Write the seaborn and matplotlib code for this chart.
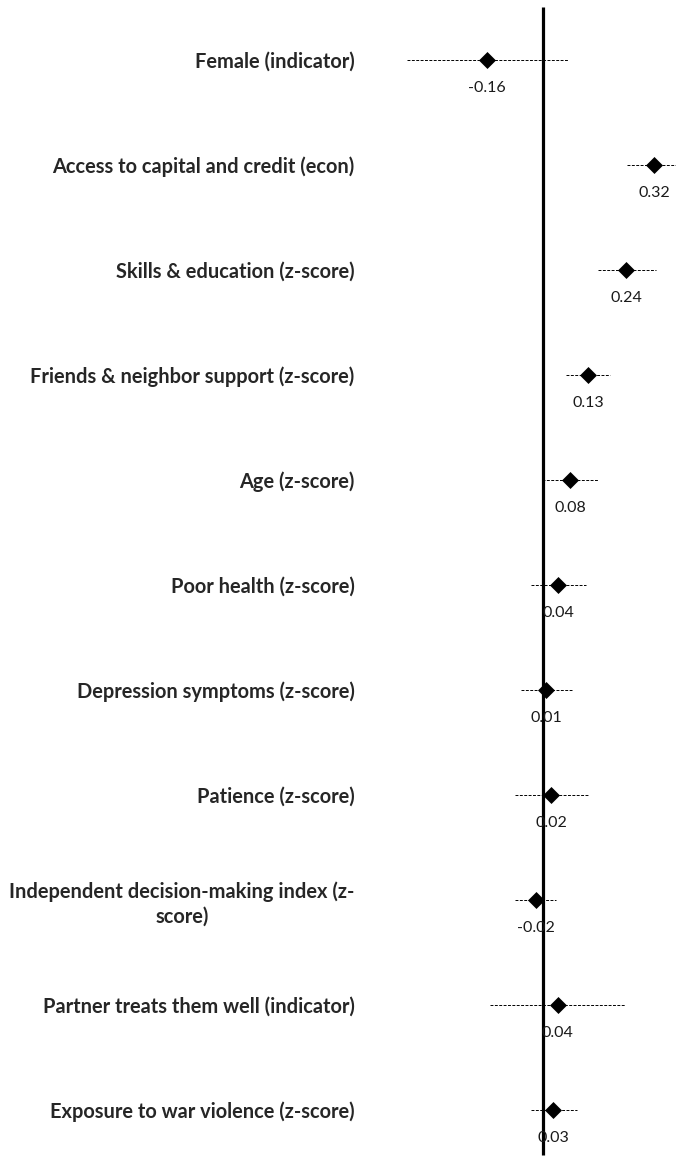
import pandas as pd
import seaborn as sns
import matplotlib.pyplot as plt

# coefficients and confidence bounds
labels = [
    "Female (indicator)",
    "Access to capital and credit (econ)",
    "Skills & education (z-score)",
    "Friends & neighbor support (z-score)",
    "Age (z-score)",
    "Poor health (z-score)",
    "Depression symptoms (z-score)",
    "Patience (z-score)",
    "Independent decision-making index (z-\nscore)",
    "Partner treats them well (indicator)",
    "Exposure to war violence (z-score)",
]
coef = [-0.16, 0.319, 0.240, 0.131, 0.078, 0.045, 0.010, 0.024, -0.020, 0.043, 0.030]
lower = [-0.390, 0.241, 0.159, 0.067, -0.002, -0.034, -0.062, -0.080, -0.080, -0.151, -0.035]
upper = [0.073, 0.400, 0.325, 0.194, 0.158, 0.124, 0.083, 0.129, 0.038, 0.236, 0.098]
value_text = ["-0.16", "0.32", "0.24", "0.13", "0.08", "0.04", "0.01", "0.02", "-0.02", "0.04", "0.03"]

df = pd.DataFrame({"label": labels, "coef": coef, "lower": lower, "upper": upper})
df["row"] = range(len(df))

sns.set_style("white")
plt.rcParams["font.family"] = ["Lato", "DejaVu Sans"]

fig = plt.figure(figsize=(6.76, 11.59), dpi=100)
ax = fig.add_axes([370 / 676, 0, 1 - 370 / 676, 1])

ax.hlines(df["row"], df["lower"], df["upper"], colors="black",
          linestyles=(0, (3, 1.5)), linewidth=0.7, zorder=2)
ax.vlines(0, -0.505, 10.43, colors="black", linewidth=2.3, zorder=3)
sns.scatterplot(data=df, x="coef", y="row", marker="D", s=75, color="black",
                edgecolor="black", linewidth=0, ax=ax, zorder=4, legend=False)

for r, c, t in zip(df["row"], df["coef"], value_text):
    ax.text(c, r + 0.265, t, ha="center", va="center", fontsize=11.5, color="#1a1a1a", zorder=5)

ax.set_xlim(-0.495, 0.382)
ax.set_ylim(10.467, -0.571)
ax.set_yticks(df["row"])
ax.set_yticklabels(df["label"], fontsize=14.4, fontweight="bold")
for lab in ax.get_yticklabels():
    lab.set_multialignment("center")
    lab.set_linespacing(1.3)
ax.tick_params(axis="y", length=0, pad=11)
ax.set_xticks([])
ax.set_xlabel("")
ax.set_ylabel("")
sns.despine(ax=ax, left=True, bottom=True)

fig.savefig("out.png", dpi=100)
